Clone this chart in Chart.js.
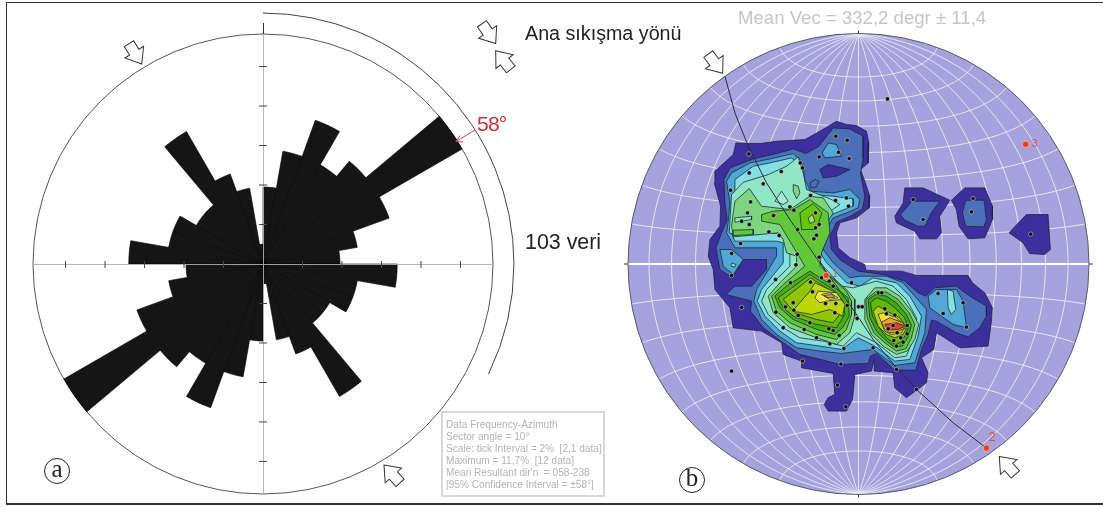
<!DOCTYPE html>
<html>
<head>
<meta charset="utf-8">
<script src="https://cdn.jsdelivr.net/npm/chart.js@4"></script>
<style>
  html, body { margin: 0; padding: 0; background: #fff; }
  body { position: relative; width: 1103px; height: 507px; overflow: hidden; font-family: "Liberation Sans", sans-serif; }
  canvas { position: absolute; top: 0; }
  #frame { position: absolute; left: 6px; top: 2px; width: 1096px; height: 500px; border: 1px solid #333; border-bottom-width: 2px; }
  .label { position: absolute; white-space: pre; line-height: 1; }
  .panel-tag { position: absolute; width: 24px; height: 24px; border: 1px solid #222; border-radius: 50%;
    font-family: "Liberation Serif", serif; font-size: 25px; line-height: 20px; text-align: center; color: #222; }
  #stats { position: absolute; left: 441px; top: 411px; width: 160px; height: 82px; border: 2px solid #d8d8d8;
    color: #b4b4b4; font-size: 10.1px; line-height: 12px; white-space: pre; }
  #stats div { padding-left: 3px; }
  #stats div:first-child { margin-top: 6px; }
</style>
</head>
<body>
<div id="frame"></div>
<canvas id="rose" width="520" height="507" style="left:0"></canvas>
<canvas id="net" width="583" height="507" style="left:520px"></canvas>

<div class="label" style="left:525px;top:24px;font-size:19.7px;color:#222">Ana sıkışma yönü</div>
<div class="label" style="left:525px;top:232px;font-size:21.4px;color:#222">103 veri</div>
<div class="label" style="left:477px;top:113px;font-size:21px;letter-spacing:-0.8px;color:#c8323a">58°</div>
<div class="label" style="left:738px;top:9px;font-size:18.6px;color:#c6c6c6">Mean Vec = 332,2 degr ± 11,4</div>
<div class="panel-tag" style="left:44px;top:458px">a</div>
<div class="panel-tag" style="left:679px;top:467px">b</div>
<div id="stats"><div>Data Frequency-Azimuth</div><div>Sector angle = 10°</div><div>Scale: tick Interval = 2%  [2,1 data]</div><div>Maximum = 11,7%  [12 data]</div><div>Mean Resultant dir'n  = 058-238</div><div>[95% Confidence Interval = ±58°]</div></div>

<script>
// ==========================
// ROSE DATA (percent per 10 degree sector, clockwise from north)
// ==========================
const sectorLabels = [];
for (let a = 0; a < 360; a += 10) sectorLabels.push(a + "-" + (a + 10));

const roseHalf = [3.9, 5.8, 7.75, 5.8, 6.8, 11.65, 6.8, 4.85, 3.9, 6.8, 4.85, 4.85, 3.9, 3.9, 7.75, 4.85, 3.9, 1.0];
const roseOther = [3.9, 5.8, 7.75, 5.8, 6.8, 11.65, 6.8, 4.85, 3.9, 6.8, 4.85, 4.85, 3.9, 3.9, 7.75, 4.85, 3.9, 1.0];
const roseValues = [...roseHalf, ...roseOther];
const roseMax = 11.65;
const roseTicks = [2, 4, 6, 8, 10];

// ==========================
// NET DATA (digitised net units, x 24-1408, y 100-1487 downward)
// ==========================
const poles = [[803,298],[648,410],[682,422],[656,458],[598,472],[688,477],[387,463],[541,490],[548,505],[388,520],[484,516],[430,553],[332,572],[572,588],[392,607],[680,595],[647,603],[686,620],[510,622],[522,632],[383,640],[461,648],[587,640],[365,665],[388,675],[598,675],[587,685],[533,690],[447,697],[478,708],[590,707],[582,718],[362,732],[335,762],[532,764],[598,773],[528,796],[335,828],[605,835],[628,845],[640,860],[467,840],[512,850],[572,848],[695,850],[776,880],[786,880],[578,877],[955,882],[1030,910],[970,942],[1040,983],[497,922],[520,910],[522,932],[617,912],[648,912],[682,918],[716,922],[727,922],[468,938],[645,940],[535,948],[712,957],[795,928],[800,943],[825,947],[365,924],[570,970],[490,985],[553,990],[627,988],[640,993],[658,1008],[590,1015],[630,1033],[672,1047],[760,1045],[548,1085],[663,1094],[653,1157],[678,1222],[830,1110],[890,1170],[335,1115],[820,978],[805,988],[832,1000],[862,978],[843,1015],[862,1003],[822,1023],[850,1028],[830,1040],[880,600],[910,660],[1060,597],[1055,637],[1233,704]];
const eigenPoints = [[619,828],[1100,1346],[1218,434]];
const eigenLabels = ["1", "2", "3"];
const greatCircle = [[315,230],[345,340],[385,440],[440,550],[510,660],[600,790],[700,930],[760,1020],[830,1105],[890,1170],[1000,1270],[1100,1346]];

const c1Main = [[348,430],[420,432],[470,425],[555,420],[600,395],[650,365],[680,375],[710,378],[740,395],[747,430],[745,490],[722,510],[735,545],[750,590],[748,625],[710,655],[660,670],[650,700],[655,745],[690,775],[735,795],[738,812],[780,815],[845,815],[890,828],[1045,828],[1058,850],[1095,880],[1118,925],[1115,965],[1105,1040],[1020,1045],[975,1015],[950,1000],[942,1050],[905,1075],[925,1120],[920,1150],[860,1195],[825,1165],[820,1120],[765,1115],[763,1080],[755,1115],[705,1125],[698,1200],[680,1235],[625,1235],[613,1215],[625,1195],[645,1185],[640,1122],[545,1105],[545,1085],[490,1065],[485,1030],[425,995],[340,985],[330,925],[285,870],[280,810],[265,770],[270,720],[300,680],[302,620],[283,550],[285,515],[340,465]];
const c1East = [[855,565],[910,565],[990,602],[960,650],[965,700],[950,718],[900,718],[885,695],[830,670],[825,650],[850,610]];
const c1Mid = [[995,602],[1035,565],[1095,565],[1118,620],[1118,660],[1095,715],[1045,718],[1018,680],[1010,630]];
const c1Far = [[1168,700],[1220,645],[1285,645],[1292,750],[1275,765],[1230,762],[1210,730]];
const c2Main = [[330,505],[400,478],[470,462],[520,448],[558,462],[597,440],[640,385],[690,388],[730,410],[730,478],[722,520],[735,590],[728,628],[695,648],[650,668],[630,710],[635,750],[662,782],[715,815],[790,825],[855,845],[895,880],[918,890],[945,865],[1010,860],[1050,890],[1100,920],[1100,950],[1080,985],[1045,1012],[1010,1000],[950,965],[935,962],[925,1005],[905,1050],[888,1112],[825,1112],[770,1062],[752,1070],[745,1092],[660,1095],[610,1082],[540,1065],[490,1030],[430,985],[392,935],[395,905],[318,885],[345,860],[395,860],[440,810],[440,780],[370,780],[338,835],[300,810],[288,745],[305,700],[322,660],[315,610],[312,540]];
const c2East = [[875,605],[960,605],[935,640],[915,680],[895,680],[855,662],[842,645],[860,625]];
const c2Mid = [[1038,602],[1093,602],[1100,660],[1092,682],[1038,680],[1028,640]];
const c1Hole = [[600,510],[625,495],[690,510],[650,530],[610,535]];
const c3Main = [[335,520],[390,490],[450,478],[520,462],[548,490],[555,540],[572,575],[640,580],[690,570],[720,600],[715,625],[680,640],[640,655],[612,700],[610,750],[640,790],[690,835],[720,830],[800,830],[850,850],[885,890],[920,930],[915,1000],[885,1090],[825,1098],[760,1050],[665,1062],[600,1055],[530,1045],[470,1005],[425,960],[402,905],[410,870],[470,770],[470,745],[345,745],[320,700],[325,665],[330,610],[320,545]];
const c3North = [[607,460],[625,430],[650,435],[665,470],[615,475]];
const c3East = [[925,890],[950,870],[1010,870],[1030,905],[1040,985],[1000,975],[965,950],[930,925]];
const c3West = [[300,750],[335,750],[370,780],[340,825],[310,800]];
const c2Spot = [[570,550],[585,540],[597,545],[590,562],[573,565]];
const c4Main = [[345,540],[400,500],[450,490],[515,475],[540,495],[545,545],[570,585],[640,590],[700,598],[700,620],[660,635],[625,650],[598,700],[595,750],[620,790],[680,850],[720,860],[760,835],[830,850],[870,890],[905,950],[895,1010],[870,1080],[825,1085],[765,1040],[715,1015],[665,1050],[600,1040],[530,1030],[480,995],[435,950],[412,905],[425,870],[490,790],[490,730],[470,725],[345,725],[330,690],[340,650],[343,600]];
const c4East = [[983,870],[1000,875],[1008,930],[995,945],[985,925]];
const c4West = [[335,790],[348,795],[345,803],[333,800]];
const c5Main = [[328,700],[335,585],[370,548],[445,525],[500,500],[535,472],[550,520],[560,570],[635,600],[660,615],[610,650],[582,700],[578,755],[610,800],[665,860],[700,865],[770,845],[820,860],[860,900],[890,955],[885,1005],[860,1070],[825,1075],[770,1030],[710,1000],[670,1040],[610,1025],[540,1015],[490,985],[445,945],[425,905],[440,870],[510,800],[510,715],[490,700],[345,705]];
const c6Main = [[345,605],[388,567],[425,620],[510,630],[570,590],[610,595],[640,640],[625,665],[600,710],[590,770],[620,820],[680,870],[705,900],[705,950],[690,1000],[650,1035],[590,1015],[510,985],[460,940],[445,890],[480,850],[530,800],[530,770],[500,760],[490,720],[475,700],[340,712],[335,680],[340,640]];
const c6East = [[735,900],[765,865],[800,865],[840,890],[875,935],[897,975],[885,1020],[862,1055],[830,1065],[790,1040],[755,1005],[735,960]];
const c5Notch = [[345,655],[395,650],[395,660],[345,668]];
const c5Diamond = [[465,605],[485,575],[505,605],[490,615]];
const c6Sliver = [[520,555],[535,560],[540,580],[530,598],[520,575]];
const c7Ridge = [[425,645],[460,635],[520,630],[570,600],[625,640],[630,700],[605,760],[600,800],[640,840],[680,875],[695,905],[695,945],[680,990],[650,1020],[590,1005],[510,970],[470,935],[455,890],[490,855],[555,800],[510,725],[480,675],[425,665]];
const c7Stripe = [[340,692],[400,690],[400,705],[342,708]];
const c7East = [[738,900],[770,875],[800,878],[835,900],[868,940],[885,975],[875,1015],[858,1048],[830,1055],[795,1030],[762,1000],[742,955]];
const c8Main = [[570,815],[640,860],[685,895],[688,950],[668,985],[645,1005],[590,990],[520,960],[480,925],[465,890],[500,860]];
const c8East = [[745,900],[768,885],[800,890],[830,910],[860,945],[875,978],[865,1012],[850,1038],[828,1045],[800,1025],[770,995],[750,955]];
const c9Ridge = [[540,640],[580,612],[606,640],[590,690],[545,690]];
const c9Main = [[475,895],[570,825],[640,870],[670,905],[675,945],[650,985],[590,975],[520,950],[490,925]];
const c9East = [[752,910],[770,895],[800,905],[825,925],[855,955],[865,985],[855,1010],[840,1030],[825,1035],[800,1015],[778,985],[758,950]];
const c10Main = [[490,900],[572,835],[635,875],[660,910],[660,945],[640,970],[590,960],[525,940]];
const c10East = [[760,935],[775,920],[800,935],[840,955],[860,985],[850,1005],[825,1015],[800,1005],[775,980]];
const c11Main = [[518,935],[570,875],[585,850],[650,880],[675,915],[668,950],[630,930],[575,945]];
const c12Main = [[585,895],[595,875],[650,880],[665,900],[620,905],[600,910]];
const c12East = [[775,945],[790,940],[830,955],[855,980],[845,1000],[815,1005],[795,995]];
const c13Main = [[605,885],[630,880],[655,895],[630,900]];
const c13East = [[785,968],[810,955],[850,970],[858,985],[830,998],[810,1000],[795,990]];
const c14Main = [[612,888],[635,885],[645,893],[625,895]];
const c14East = [[795,975],[830,970],[858,980],[835,990],[805,992]];
const c5Ridge = [[565,655],[578,645],[585,665],[570,672]];

// paint order, lowest level first
const contourLevels = [
  [c1Main, "#3d2f9d"], [c1East, "#3d2f9d"], [c1Mid, "#3d2f9d"], [c1Far, "#3d2f9d"],
  [c2Main, "#4b70b9"], [c2East, "#4b70b9"], [c2Mid, "#4b70b9"], [c1Hole, "#3d2f9d"],
  [c3Main, "#4fa8d6"], [c3North, "#4fa8d6"], [c3East, "#4fa8d6"], [c3West, "#4fa8d6"], [c2Spot, "#4b70b9"],
  [c4Main, "#83dfe3"], [c4East, "#83dfe3"], [c4West, "#83dfe3"],
  [c5Main, "#90e6c6"],
  [c6Main, "#7cd67e"], [c6East, "#7cd67e"], [c5Notch, "#90e6c6"], [c5Diamond, "#a5ecd8"], [c6Sliver, "#7cd67e"],
  [c7Ridge, "#62c83a"], [c7Stripe, "#62c83a"], [c7East, "#5cc043"],
  [c8Main, "#45b016"], [c8East, "#40a90f"], [c9Ridge, "#66c800"], [c5Ridge, "#a5e070"],
  [c9Main, "#66bc00"], [c9East, "#62b900"],
  [c10Main, "#90c600"], [c10East, "#b8d400"],
  [c11Main, "#bcd800"], [c12Main, "#f0e83a"], [c12East, "#f0e030"],
  [c13Main, "#fff7a0"], [c13East, "#f0a030"], [c14Main, "#f09a28"], [c14East, "#e0431f"]
];

// ==========================
// HELPERS
// ==========================
function toXY(list) {
  return list.map(p => ({ x: p[0], y: p[1] }));
}

function hollowArrow(ctx, tipX, tipY, angleDeg) {
  const shape = [[0,0],[-14,11],[-14,5.5],[-24,5.5],[-24,-5.5],[-14,-5.5],[-14,-11]];
  ctx.save();
  ctx.translate(tipX, tipY);
  ctx.rotate(angleDeg * Math.PI / 180);
  ctx.beginPath();
  shape.forEach((p, i) => i ? ctx.lineTo(p[0], p[1]) : ctx.moveTo(p[0], p[1]));
  ctx.closePath();
  ctx.fillStyle = "#fff";
  ctx.fill();
  ctx.strokeStyle = "#333";
  ctx.lineWidth = 1;
  ctx.stroke();
  ctx.restore();
}

// ==========================
// ROSE CHART
// ==========================
const roseExtras = {
  id: "roseExtras",
  afterDatasetsDraw(chart) {
    const ctx = chart.ctx;
    const r = chart.scales.r;
    const cx = r.xCenter, cy = r.yCenter;
    const outer = r.getDistanceFromCenterForValue(roseMax);
    ctx.save();

    // cross lines, pale over the black bars
    ctx.strokeStyle = "rgba(175,175,175,0.9)";
    ctx.lineWidth = 1;
    ctx.beginPath();
    ctx.moveTo(cx - outer, cy + 0.5); ctx.lineTo(cx + outer, cy + 0.5);
    ctx.moveTo(cx + 0.5, cy - outer); ctx.lineTo(cx + 0.5, cy + outer);
    ctx.stroke();
    ctx.strokeStyle = "#333";
    ctx.beginPath();
    ctx.moveTo(cx + 0.5, cy - outer - 11); ctx.lineTo(cx + 0.5, cy - outer);
    ctx.stroke();

    // ticks every 2%
    ctx.strokeStyle = "#444";
    ctx.beginPath();
    roseTicks.forEach(t => {
      const d = r.getDistanceFromCenterForValue(t);
      ctx.moveTo(cx + d, cy - 3); ctx.lineTo(cx + d, cy + 4);
      ctx.moveTo(cx - d, cy - 3); ctx.lineTo(cx - d, cy + 4);
      ctx.moveTo(cx - 4, cy - d); ctx.lineTo(cx + 4, cy - d);
      ctx.moveTo(cx - 4, cy + d); ctx.lineTo(cx + 4, cy + d);
    });
    ctx.stroke();

    // confidence arc 0-116 degrees
    ctx.strokeStyle = "#444";
    ctx.beginPath();
    ctx.arc(cx, cy, r.getDistanceFromCenterForValue(12.71), -Math.PI / 2, (116 - 90) * Math.PI / 180);
    ctx.stroke();

    // red pointer to the 58 degree sector
    ctx.strokeStyle = "#d2484c";
    ctx.beginPath();
    ctx.moveTo(475, 130); ctx.lineTo(456, 141.5);
    ctx.moveTo(463, 142); ctx.lineTo(456, 141.5); ctx.lineTo(460, 135.5);
    ctx.stroke();
    ctx.restore();

    hollowArrow(ctx, 141.7, 64, 58);
    hollowArrow(ctx, 384, 465, 228);
    hollowArrow(ctx, 495.7, 43.5, 55);
    hollowArrow(ctx, 495.7, 50.7, 231);
  }
};

new Chart(document.getElementById("rose"), {
  type: "polarArea",
  data: {
    labels: sectorLabels,
    datasets: [{
      data: roseValues,
      backgroundColor: "#151515",
      borderColor: "#000",
      borderWidth: 0.6
    }]
  },
  options: {
    responsive: false,
    animation: false,
    layout: { padding: { left: 33, right: 27, top: 34, bottom: 13 } },
    plugins: { legend: { display: false }, tooltip: { enabled: false } },
    scales: {
      r: {
        min: 0,
        max: roseMax,
        startAngle: 0,
        ticks: { display: false, stepSize: roseMax },
        grid: { color: "#555", lineWidth: 1 },
        angleLines: { display: false },
        pointLabels: { display: false }
      }
    }
  },
  plugins: [roseExtras]
});

// ==========================
// STEREONET CHART
// ==========================
const netCx = 716, netCy = 793.5, netR = 692;

function schmidt(lat, lon) {
  const la = lat * Math.PI / 180, lo = lon * Math.PI / 180;
  const k = 1 / Math.sqrt(1 + Math.cos(la) * Math.cos(lo));
  return { x: netCx + netR * k * Math.cos(la) * Math.sin(lo), y: netCy - netR * k * Math.sin(la) };
}

const netExtras = {
  id: "netExtras",
  beforeDatasetsDraw(chart) {
    const ctx = chart.ctx;
    const sx = chart.scales.x, sy = chart.scales.y;
    const cx = sx.getPixelForValue(netCx), cy = sy.getPixelForValue(netCy);
    const rad = sx.getPixelForValue(netCx + netR) - cx;
    const trace = pts => {
      ctx.beginPath();
      pts.forEach((p, i) => {
        const px = sx.getPixelForValue(p.x), py = sy.getPixelForValue(p.y);
        i ? ctx.lineTo(px, py) : ctx.moveTo(px, py);
      });
      ctx.stroke();
    };

    ctx.save();
    ctx.beginPath();
    ctx.arc(cx, cy, rad, 0, Math.PI * 2);
    ctx.fillStyle = "#a6a2dd";
    ctx.fill();
    ctx.clip();

    ctx.strokeStyle = "rgba(255,255,255,0.7)";
    ctx.lineWidth = 1;
    for (let lon = -80; lon <= 80; lon += 10) {
      const pts = [];
      for (let lat = -90; lat <= 90; lat += 3) pts.push(schmidt(lat, lon));
      trace(pts);
    }
    for (let lat = -70; lat <= 70; lat += 10) {
      if (lat === 0) continue;
      const pts = [];
      for (let lon = -90; lon <= 90; lon += 3) pts.push(schmidt(lat, lon));
      trace(pts);
    }
    ctx.strokeStyle = "#fff";
    ctx.lineWidth = 2;
    ctx.beginPath();
    ctx.moveTo(cx - rad, cy); ctx.lineTo(cx + rad, cy);
    ctx.stroke();
    ctx.restore();
  },
  afterDatasetsDraw(chart) {
    const ctx = chart.ctx;
    const sx = chart.scales.x, sy = chart.scales.y;
    const cx = sx.getPixelForValue(netCx), cy = sy.getPixelForValue(netCy);
    const rad = sx.getPixelForValue(netCx + netR) - cx;
    ctx.save();
    ctx.strokeStyle = "#5a5a66";
    ctx.lineWidth = 1;
    ctx.beginPath();
    ctx.arc(cx, cy, rad, 0, Math.PI * 2);
    ctx.stroke();
    ctx.strokeStyle = "#333";
    ctx.beginPath();
    ctx.moveTo(cx - rad - 4, cy); ctx.lineTo(cx - rad, cy);
    ctx.moveTo(cx + rad, cy); ctx.lineTo(cx + rad + 4, cy);
    ctx.moveTo(cx, cy - rad - 3); ctx.lineTo(cx, cy - rad);
    ctx.moveTo(cx, cy + rad); ctx.lineTo(cx, cy + rad + 3);
    ctx.stroke();

    // labels beside the three red eigenvectors
    ctx.fillStyle = "#e0523c";
    ctx.textBaseline = "middle";
    const shift = [[6, -1, 10], [2, -11, 13], [6, 0, 10]];
    eigenPoints.forEach((p, i) => {
      ctx.font = shift[i][2] + 'px "Liberation Sans"';
      ctx.fillText(eigenLabels[i], sx.getPixelForValue(p[0]) + shift[i][0], sy.getPixelForValue(p[1]) + shift[i][1]);
    });
    ctx.restore();

    // canvas starts at x = 520
    hollowArrow(ctx, 202.7, 73.3, 53);
    hollowArrow(ctx, 479.3, 456.5, 228);
  }
};

const contourSets = contourLevels.map(([ring, colour]) => ({
  data: toXY([...ring, ring[0]]),
  showLine: true,
  fill: "shape",
  backgroundColor: colour,
  borderColor: "rgba(22,40,48,0.85)",
  borderWidth: 0.9,
  pointRadius: 0
}));

const upperSets = [
  {
    data: toXY(greatCircle),
    showLine: true,
    fill: false,
    borderColor: "#2a2a44",
    borderWidth: 1,
    pointRadius: 0
  },
  {
    data: toXY(poles),
    showLine: false,
    backgroundColor: "#111",
    borderColor: "rgba(255,255,255,0.55)",
    borderWidth: 0.8,
    pointRadius: 2.2
  },
  {
    data: toXY(eigenPoints),
    showLine: false,
    backgroundColor: "#e8421c",
    borderColor: "rgba(255,190,170,0.7)",
    borderWidth: 1,
    pointRadius: 3.2
  }
];

// dataset 0 is painted last, so flip the paint order
new Chart(document.getElementById("net"), {
  type: "scatter",
  data: { datasets: [...contourSets, ...upperSets].reverse() },
  options: {
    responsive: false,
    animation: false,
    layout: { padding: { left: 108, right: 14, top: 33, bottom: 12 } },
    plugins: { legend: { display: false }, tooltip: { enabled: false } },
    scales: {
      x: { type: "linear", display: false, min: 24, max: 1408 },
      y: { type: "linear", display: false, min: 100, max: 1487, reverse: true }
    }
  },
  plugins: [netExtras]
});
</script>
</body>
</html>
